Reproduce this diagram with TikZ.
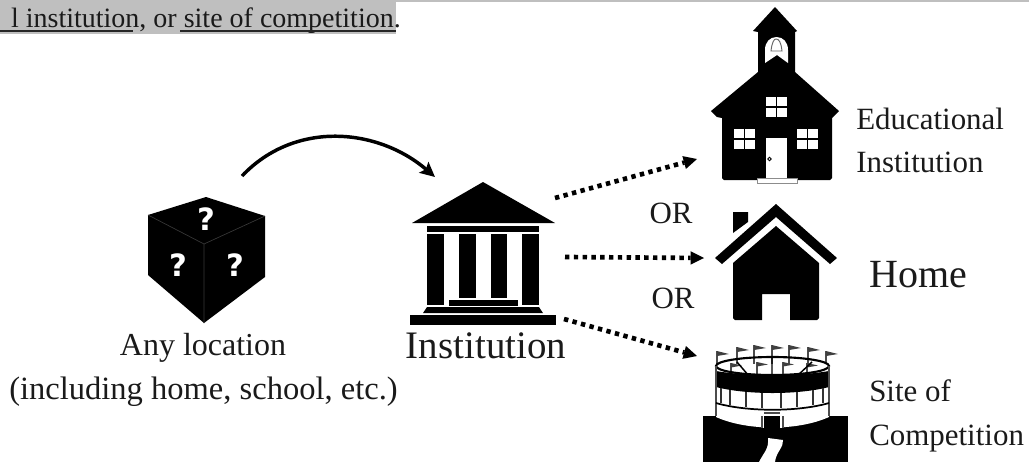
\documentclass[tikz,border=0pt]{standalone}
\usepackage{fontspec}
\setmainfont{Liberation Serif}
\newfontfamily\qfont{DejaVu Sans}
\usetikzlibrary{arrows.meta}
\definecolor{barg}{HTML}{BFBFBF}
\definecolor{txt}{HTML}{1A1A1A}
\tikzset{
  icon/.style={fill=black,draw=none},
  hole/.style={fill=white,draw=none},
  box/.style={inner sep=0pt,outer sep=0pt,draw=none},
  lab/.style={inner sep=0pt,anchor=base,text=txt},
  qmark/.style={inner sep=0pt,text=white,font={\qfont\bfseries\fontsize{23}{24}\selectfont}},
  dotarrow/.style={line width=3.5pt,dash pattern=on 3.3pt off 3.3pt,-{Triangle[length=10pt,width=10pt,line width=0pt]}},
}
\begin{document}
\begin{tikzpicture}[x=.75pt,y=-.75pt]
\useasboundingbox (0,0) rectangle (1029,462);
% top strip
\fill[barg] (0,0) rectangle (1029,2);
\fill[barg] (0,0) rectangle (396,34);
\node[inner sep=0pt,anchor=base east,text=txt,font=\fontsize{21}{25}\selectfont] (top) at (401,27) {l institution, or site of competition.};
\draw[black!85,line width=1.5pt] (0,31) -- (133,31) (180,31) -- (396,31);
% invisible frames
\node[box,minimum width=87.75pt,minimum height=94.5pt] (cube) at (206.5,260) {};
\node[box,minimum width=122.25pt,minimum height=107.25pt] (inst) at (483.5,253.5) {};
\node[box,minimum width=96pt,minimum height=132pt] (school) at (775,95) {};
\node[box,minimum width=91.5pt,minimum height=87pt] (home) at (776,262) {};
\node[box,minimum width=108.75pt,minimum height=88.5pt] (stadium) at (775.5,403) {};
% cube
\fill[icon] (206,197) -- (265,216) -- (265,277) -- (204,323) -- (148,275) -- (148,215) -- cycle;
\draw[black!78,line width=.5pt] (148,215) -- (204,244) -- (265,216) (204,244) -- (204,323);
\node[qmark] (q1) at (206,219) {?};
\node[qmark] (q2) at (178,265) {?};
\node[qmark] (q3) at (235,265) {?};
% institution
\fill[icon] (483,182) -- (555,223) -- (412,223) -- cycle;
\fill[icon] (427,226) rectangle (539,232);
\fill[icon] (427,234) rectangle (444,305);
\fill[icon] (459,234) rectangle (476,298);
\fill[icon] (491,234) rectangle (507,298);
\fill[icon] (522,234) rectangle (539,305);
\fill[icon] (449,300) rectangle (518,306);
\fill[icon] (427,307) -- (539,307) -- (543,313) -- (423,313) -- cycle;
\fill[icon] (410,315) rectangle (556,325);
% school
\fill[icon] (775,7) -- (797,31) -- (795,32) -- (795,72) -- (839,111) -- (832,118) -- (832,178)
  -- (830,180) -- (724,180) -- (722,178)
  -- (722,118) -- (717,117) -- (711,111) -- (758,72) -- (758,32) -- (753,31) -- cycle;
\fill[hole] (765,63) -- (765,50) .. controls (765,42) and (770,37) .. (776.5,37) .. controls (783,37) and (788,42) .. (788,50) -- (788,63) -- (777,55) -- cycle;
\draw[black!60,line width=.7pt] (771,51) .. controls (772,42) and (774,39) .. (776,39) .. controls (779,39) and (781,42) .. (782,51) -- cycle;
\foreach \a/\b in {766/97,734/129,797/129}{
  \fill[hole] (\a,\b) rectangle ++(21,20);
  \draw[draw=black,line width=1pt] (\a+10.5,\b) -- ++(0,20) (\a,\b+10) -- ++(21,0);
}
\fill[hole] (766,138) rectangle (787,178);
\draw[black,line width=.6pt] (769.5,159) circle[radius=1.8];
\fill[hole,draw=black!45,line width=.5pt] (757,178) rectangle (797,183);
% home
\fill[icon] (733,212) -- (748,212) -- (748,222) -- (733,233) -- cycle;
\fill[icon] (776,204) -- (837,258) -- (830,264) -- (776,217) -- (722,264) -- (715,258) -- cycle;
\fill[icon] (776,226) -- (819,263) -- (819,318) -- (817,320) -- (790,320) -- (790,294) -- (762,294) -- (762,320) -- (735,320) -- (733,318) -- (733,263) -- cycle;
% stadium
\fill[icon] (703,416) -- (848,416) -- (848,462) -- (703,462) -- cycle;
\foreach \x/\t in {717/351,737/347,754/345,772/345,789/345,808/347,826/351}{
  \draw[black!70,line width=1pt] (\x,\t) -- (\x,364);
  \fill[black!75] (\x,\t) -- (\x+12,\t+3) -- (\x,\t+5) -- cycle;
}
\foreach \x/\t in {731/363,757/362,783/362,807/363}{
  \draw[black!70,line width=1pt] (\x,\t) -- (\x,376);
  \fill[black!75] (\x,\t) -- (\x+11,\t+2.5) -- (\x,\t+4.5) -- cycle;
}
\draw[black,line width=1.1pt] (772,358) -- (772,378) (737,362) -- (749,376) (812,362) -- (797,376);
\draw[black,line width=1.6pt] (772.5,366) ellipse[x radius=56.5,y radius=9];
\fill[hole] (716,386) .. controls (747,396) and (798,396) .. (829,386) -- (829,417) .. controls (798,431) and (747,431) .. (716,417) -- cycle;
\fill[icon] (716,371) .. controls (747,376.5) and (798,376.5) .. (829,371) -- (829,387) .. controls (798,395) and (747,395) .. (716,387) -- cycle;
\draw[black!70,line width=1.2pt] (716,366) -- (716,416) (829,366) -- (829,416);
\draw[black,line width=1.3pt] (716,403) .. controls (747,412) and (798,412) .. (829,403);
\foreach \x/\u/\v in {721/388/403,730/390/405,746/392/407,762/393/408,781/393/408,797/392/407,813/390/405,823/388/403}{
  \draw[black!80,line width=1.4pt] (\x,\u) -- (\x,\v);
}
\fill[hole] (761,413) rectangle (784,428);
\fill[icon] (764,416) rectangle (780,430);
\draw[black!70,line width=.9pt] (762,428) -- (762,416) (783,428) -- (783,416) (764,413) -- (780,413);
\fill[hole] (768,438) -- (783,440) .. controls (784,447) and (776,452) .. (775,462) -- (759,462) .. controls (764,452) and (769,449) .. (768,438) -- cycle;
% connectors
\draw[line width=2.6pt,-{Stealth[length=11pt,width=10.5pt,inset=2pt]}] ([shift={(35.5,-21)}]cube.north) .. controls (295,120) and (378,128) .. ([shift={(-48.5,-5)}]inst.north);
\draw[dotarrow] ([shift={(-10,-55.5)}]inst.east) -- ([shift={(-14,64)}]school.west);
\draw[dotarrow] ([shift={(0,3.5)}]inst.east) -- ([shift={(-11,-4)}]home.west);
\draw[dotarrow] ([shift={(-1,65.5)}]inst.east) -- ([shift={(-6,-47)}]stadium.west);
% labels
\node[lab,font=\fontsize{24}{28}\selectfont] (anyloc) at (203,355) {Any location};
\node[lab,font=\fontsize{24.4}{28}\selectfont] (incl) at (203.5,399) {(including home, school, etc.)};
\node[lab,font=\fontsize{29.2}{34}\selectfont] (insttext) at (486,358) {Institution};
\node[lab,font=\fontsize{23.2}{28}\selectfont] (or1) at (671,223) {OR};
\node[lab,font=\fontsize{23.2}{28}\selectfont] (or2) at (673,308) {OR};
\node[lab,anchor=base west,font=\fontsize{23.2}{28}\selectfont] (edu) at (856,129) {Educational};
\node[lab,anchor=base west,font=\fontsize{23.2}{28}\selectfont] (edu2) at (856,172) {Institution};
\node[lab,anchor=base west,font=\fontsize{30}{36}\selectfont] (hometext) at (869,287) {Home};
\node[lab,anchor=base west,font=\fontsize{23.2}{28}\selectfont] (site) at (869,401) {Site of};
\node[lab,anchor=base west,font=\fontsize{23.2}{28}\selectfont] (comp) at (869,445) {Competition};
\end{tikzpicture}
\end{document}
